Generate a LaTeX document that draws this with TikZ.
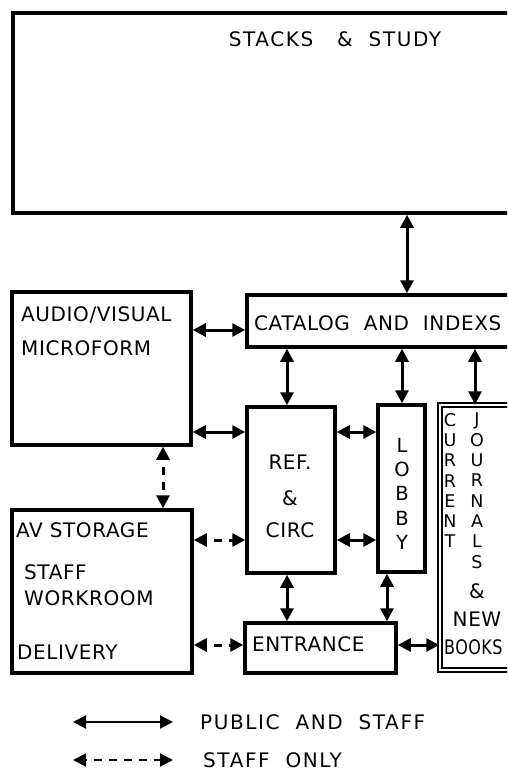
\documentclass[tikz,border=0pt]{standalone}
\usepackage{fontspec}
\setmainfont[LetterSpace=3]{DejaVu Sans}
\usetikzlibrary{positioning, fit, arrows.meta}
\tikzset{
	roomnode/.style={
			rectangle,
			draw=black,
			line width=3.5pt,
			inner sep=0pt
		},
	shelfnode/.style={
			roomnode,
			line width=1.4pt,
			double=white,
			double distance=2.5pt
		},
	labelnode/.style={
			inner sep=0pt,
			font=\fontsize{20}{24}\selectfont
		},
	widelabel/.style={
			labelnode,
			font=\fontsize{20}{24}\selectfont\addfontfeatures{LetterSpace=8}
		},
	upletters/.style={
			labelnode,
			align=center,
			anchor=north,
			font=\fontsize{17.5}{20.3}\selectfont
		},
	publicarrow/.style={
			line width=3pt,
			{Triangle[length=13pt,width=13pt]}-{Triangle[length=13pt,width=13pt]}
		},
	staffarrow/.style={
			publicarrow,
			dash pattern=on 8pt off 7pt,
			dash phase=7pt
		}
}
\begin{document}
\begin{tikzpicture}[x=1pt, y=-1pt]
\useasboundingbox (0,0) rectangle (507,771);
\clip (0,0) rectangle (507,771);

% rooms
\node[roomnode, fit={(13,13) (540,213)}] (stacks) {};
\node[roomnode, fit={(12,292) (191,445)}] (av) {};
\node[roomnode, fit={(247,295) (540,347)}] (cat) {};
\node[roomnode, fit={(247,407) (335,573)}] (ref) {};
\node[roomnode, fit={(378,405) (425,572)}] (lobby) {};
\node[shelfnode, fit={(440,405) (540,670)}] (journals) {};
\node[roomnode, fit={(12,510) (192,673)}] (avstore) {};
\node[roomnode, fit={(245,623) (396,673)}] (entrance) {};

% texts
\node[widelabel] (stackstext) at (335,39) {STACKS\ \ \ \&\ \ STUDY};
\node[labelnode, anchor=west] (avtext) at (21,315) {AUDIO/VISUAL};
\node[labelnode, anchor=west] (mftext) at (21,348) {MICROFORM};
\node[labelnode, anchor=west] (cattext) at (254,323) {CATALOG\ \ AND\ \ INDEXS};
\node[labelnode] (reftext) at (290,462) {REF.};
\node[labelnode] (amptext) at (290,498) {\&};
\node[labelnode] (circtext) at (290,530) {CIRC};
\node[upletters, font=\fontsize{19.5}{24.2}\selectfont] (lobbytext) at (402,438) {L\\O\\B\\B\\Y};
\node[upletters] (currtext) at (450,413) {C\\U\\R\\R\\E\\N\\T};
\node[upletters] (jourtext) at (477,413) {J\\O\\U\\R\\N\\A\\L\\S};
\node[labelnode] (amp2text) at (477,591) {\&};
\node[labelnode] (newtext) at (477,619) {NEW};
\node[labelnode, anchor=west, xscale=0.8] (bookstext) at (444,647) {BOOKS};
\node[labelnode, anchor=west] (avstext) at (16,530) {AV STORAGE};
\node[labelnode, anchor=west] (stafftext) at (24,572) {STAFF};
\node[labelnode, anchor=west] (worktext) at (24,598) {WORKROOM};
\node[labelnode, anchor=west] (deltext) at (17,652) {DELIVERY};
\node[labelnode, anchor=west] (enttext) at (252,644) {ENTRANCE};

% rows and columns of the connectors
\coordinate (rowa) at (0,330);
\coordinate (rowb) at (0,432);
\coordinate (rowc) at (0,540);
\coordinate (rowd) at (0,645);
\coordinate (colref) at (287,0);
\coordinate (collobby) at (402,0);
\coordinate (colstacks) at (407,0);
\coordinate (coljour) at (475,0);
\coordinate (colav) at (163,0);
\coordinate (colent) at (387,0);

\draw[publicarrow] (stacks.south -| colstacks) -- (cat.north -| colstacks);
\draw[publicarrow] (av.east |- rowa) -- (cat.west |- rowa);
\draw[publicarrow] (av.east |- rowb) -- (ref.west |- rowb);
\draw[publicarrow] (cat.south -| colref) -- (ref.north -| colref);
\draw[publicarrow] (cat.south -| collobby) -- (lobby.north -| collobby);
\draw[publicarrow] (cat.south -| coljour) -- (journals.north -| coljour);
\draw[publicarrow] (ref.east |- rowb) -- (lobby.west |- rowb);
\draw[publicarrow] (ref.east |- rowc) -- (lobby.west |- rowc);
\draw[publicarrow] (ref.south -| colref) -- (entrance.north -| colref);
\draw[publicarrow] (lobby.south -| colent) -- (entrance.north -| colent);
\draw[publicarrow] (entrance.east |- rowd) -- (journals.west |- rowd);

\draw[staffarrow] (av.south -| colav) -- (avstore.north -| colav);
\draw[staffarrow] (avstore.east |- rowc) -- (ref.west |- rowc);
\draw[staffarrow] (avstore.east |- rowd) -- (entrance.west |- rowd);

% key
\coordinate (keya) at (73,722);
\coordinate (keyb) at (173,722);
\coordinate (keyc) at (73,760);
\coordinate (keyd) at (173,760);
\draw[publicarrow, line width=2pt] (keya) -- (keyb);
\draw[staffarrow, line width=2pt] (keyc) -- (keyd);
\node[widelabel, anchor=west] (keypublic) at (200,722) {PUBLIC\ \ AND\ \ STAFF};
\node[widelabel, anchor=west] (keystaff) at (203,760) {STAFF\ \ ONLY};
\end{tikzpicture}
\end{document}
